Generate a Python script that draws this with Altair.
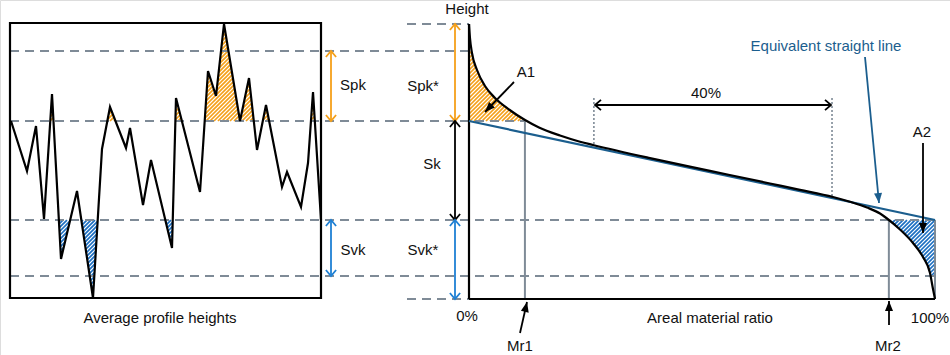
import math
import altair as alt
import numpy as np
import pandas as pd

# ---------------- data ----------------
# left panel: roughness profile (position along trace, height)
PROFILE_POS = [11, 27, 36, 44, 52, 61, 77, 93, 102, 110, 126, 130, 143, 151, 172,
               176, 200, 208, 216, 224, 240, 249, 257, 266, 282, 287, 301, 308, 313, 321]
PROFILE_H = [178, 128, 173, 80, 205, 40, 108, 1, 150, 192, 151, 171, 94, 139, 51,
             201, 107, 228, 203, 275, 178, 221, 149, 194, 112, 127, 92, 136, 207, 79]

# right panel: areal material ratio curve (%), height
CURVE_MR = [0.0, 0.21, 0.64, 1.72, 3.43, 5.58, 8.58, 12.02, 15.02, 19.53, 23.82, 26.61,
            38.84, 51.72, 64.59, 71.03, 78.11, 81.76, 85.41, 88.20, 89.70, 92.49, 95.28,
            97.42, 98.93, 99.57, 100.0]
CURVE_H = [275, 261, 246, 229, 213, 201, 189.5, 179, 171.5, 163.5, 157.3, 154,
           140.9, 128.2, 115.5, 109.2, 102, 97.2, 91.5, 85.5, 80.5, 69.5, 56,
           42, 26, 10, 0]

# equivalent straight line (material ratio %, height)
EQ_MR = [0, 100]
EQ_H = [178, 79]

# reference heights
H_TOP, H_SPK, H_CORE_TOP, H_CORE_BOT, H_SVK, H_BASE = 275, 248, 178, 79, 23, 0
MR1, MR2 = 12.0, 90.1
WINDOW_MR = [26.8, 77.9]

# ---------------- layout ----------------
LEFT_X0, LEFT_X1 = 10, 321
BOX_H0, BOX_H1 = 1, 276
ORIGIN_X, FULL_X = 469, 935


def mx(mr):
    return ORIGIN_X + np.asarray(mr, dtype=float) * (FULL_X - ORIGIN_X) / 100.0


ORANGE = "#F5A01A"
BLUE = "#1F80D4"
HATCH_BLUE = "#1C6FC2"
EQ_BLUE = "#1B5E8E"
GREY = "#7F8B97"
INK = "#111111"
FONT = "Liberation Sans"

XS = alt.Scale(domain=[0, 950], nice=False, zero=False)
YS = alt.Scale(domain=[-56, 299], nice=False, zero=False)


def X(f="x"):
    return alt.X(f"{f}:Q", scale=XS, axis=None)


def Y(f="h"):
    return alt.Y(f"{f}:Q", scale=YS, axis=None)


profile_fn = lambda xs: np.interp(xs, PROFILE_POS, PROFILE_H)
curve_x = mx(CURVE_MR)
curve_fn = lambda xs: np.interp(xs, curve_x, CURVE_H)


def hatch(x0, x1, lo, hi, step=4.0, res=0.05):
    xs = np.arange(x0, x1 + res / 2, res)
    lo_v, hi_v = lo(xs), hi(xs)
    segs = []
    c = math.floor((lo_v.min() - x1) / step) * step
    cmax = hi_v.max() - x0
    while c <= cmax:
        hv = xs + c
        inside = (hv >= lo_v) & (hv <= hi_v)
        if inside.any():
            d = np.flatnonzero(np.diff(np.concatenate([[0], inside.astype(int), [0]])))
            for a, b in zip(d[::2], d[1::2]):
                xa, xb = xs[a], xs[b - 1]
                if xb - xa > 0.3:
                    segs.append({"x": xa, "h": xa + c, "x2": xb, "h2": xb + c})
        c += step
    return pd.DataFrame(segs)


const = lambda v: (lambda xs: np.full_like(xs, v, dtype=float))

orange_hatch = pd.concat([
    hatch(LEFT_X0, LEFT_X1, const(H_CORE_TOP), profile_fn),
    hatch(ORIGIN_X, mx(MR1), const(H_CORE_TOP),
          lambda xs: np.minimum(curve_fn(xs), H_SPK)),
])
blue_hatch = pd.concat([
    hatch(LEFT_X0, LEFT_X1, profile_fn, const(H_CORE_BOT)),
    hatch(mx(MR2), FULL_X, lambda xs: np.maximum(curve_fn(xs), H_SVK), const(H_CORE_BOT)),
])


def segs_layer(df, **kw):
    return alt.Chart(df).mark_rule(**kw).encode(
        x=X(), y=Y(), x2=alt.X2("x2:Q"), y2=alt.Y2("h2:Q"))


layers = []
layers.append(segs_layer(orange_hatch, color=ORANGE, strokeWidth=1.7))
layers.append(segs_layer(blue_hatch, color=HATCH_BLUE, strokeWidth=1.7))

# dashed reference levels
dashed = pd.DataFrame([
    {"x": LEFT_X0, "x2": ORIGIN_X, "h": H_SPK, "h2": H_SPK},
    {"x": LEFT_X0, "x2": mx(MR1), "h": H_CORE_TOP, "h2": H_CORE_TOP},
    {"x": LEFT_X0, "x2": FULL_X, "h": H_CORE_BOT, "h2": H_CORE_BOT},
    {"x": LEFT_X0, "x2": FULL_X, "h": H_SVK, "h2": H_SVK},
    {"x": 407, "x2": ORIGIN_X, "h": H_TOP, "h2": H_TOP},
    {"x": 407, "x2": ORIGIN_X, "h": H_BASE, "h2": H_BASE},
])
layers.append(segs_layer(dashed, color=GREY, strokeWidth=2.2, strokeDash=[9, 6]))

# dotted window lines (40 %)
win_x = mx(WINDOW_MR)
dotted = pd.DataFrame([
    {"x": wx, "x2": wx, "h": 201, "h2": float(curve_fn(np.array([wx]))[0])} for wx in win_x
])
layers.append(segs_layer(dotted, color=GREY, strokeWidth=1.6, strokeDash=[2, 2]))

# grey verticals: Mr1, Mr2, 100 % edge
greys = pd.DataFrame([
    {"x": mx(MR1), "x2": mx(MR1), "h": H_BASE, "h2": H_CORE_TOP},
    {"x": mx(MR2), "x2": mx(MR2), "h": H_BASE, "h2": H_CORE_BOT},
    {"x": FULL_X, "x2": FULL_X, "h": H_BASE, "h2": H_CORE_BOT},
])
layers.append(segs_layer(greys, color=GREY, strokeWidth=2))

# profile
prof = pd.DataFrame({"x": PROFILE_POS, "h": PROFILE_H})
layers.append(alt.Chart(prof).mark_line(color="black", strokeWidth=2.2).encode(
    x=X(), y=Y(), order="x:Q"))

# box around profile
box = pd.DataFrame([{"x": LEFT_X0, "x2": LEFT_X1, "h": BOX_H0, "h2": BOX_H1}])
layers.append(alt.Chart(box).mark_rect(fillOpacity=0, stroke="black", strokeWidth=2.2).encode(
    x=X(), y=Y(), x2=alt.X2("x2:Q"), y2=alt.Y2("h2:Q")))

# right-panel axes
axes = pd.DataFrame([
    {"x": ORIGIN_X, "x2": ORIGIN_X, "h": H_BASE, "h2": H_TOP},
    {"x": ORIGIN_X, "x2": FULL_X, "h": H_BASE, "h2": H_BASE},
])
layers.append(segs_layer(axes, color="black", strokeWidth=2.2))

# equivalent straight line
eq = pd.DataFrame({"x": mx(EQ_MR), "h": EQ_H})
layers.append(alt.Chart(eq).mark_line(color=EQ_BLUE, strokeWidth=2.2).encode(x=X(), y=Y()))

# material ratio curve
cur = pd.DataFrame({"x": curve_x, "h": CURVE_H})
layers.append(alt.Chart(cur).mark_line(color="black", strokeWidth=2.2,
                                       interpolate="monotone").encode(x=X(), y=Y(), order="x:Q"))

# double arrows (shafts + open chevrons)
double_arrows = [
    (331, H_SPK, H_CORE_TOP, ORANGE),
    (331, H_CORE_BOT, H_SVK, BLUE),
    (455, H_TOP, H_CORE_TOP, ORANGE),
    (455, H_CORE_TOP, H_CORE_BOT, "black"),
    (455, H_CORE_BOT, H_BASE, BLUE),
]
shafts, heads = [], []
for x, ht, hb, col in double_arrows:
    shafts.append({"x": x, "x2": x, "h": ht - 1, "h2": hb + 1, "col": col})
    heads.append({"x": x, "h": ht, "ang": 270, "col": col})
    heads.append({"x": x, "h": hb, "ang": 90, "col": col})
# 40 % horizontal arrow
shafts.append({"x": 595, "x2": 831, "h": 194, "h2": 194, "col": "black"})
heads.append({"x": 595, "h": 194, "ang": 180, "col": "black"})
heads.append({"x": 831, "h": 194, "ang": 0, "col": "black"})

# single arrows with filled heads: (x start, h start, x tip, h tip, colour)
single_arrows = [
    (514, 217, 485, 187, "black"),
    (923, 156, 923, 66, "black"),
    (865, 242, 879, 96, EQ_BLUE),
    (520, -34, 527, -3, "black"),
    (889, -26, 889, -2, "black"),
]
fheads = []
for xs_, hs_, xt, ht, col in single_arrows:
    shafts.append({"x": xs_, "x2": xt, "h": hs_, "h2": ht, "col": col})
    ang = math.degrees(math.atan2(-(ht - hs_), xt - xs_)) % 360
    fheads.append({"x": xt, "h": ht, "ang": ang, "col": col})

layers.append(alt.Chart(pd.DataFrame(shafts)).mark_rule(strokeWidth=1.8).encode(
    x=X(), y=Y(), x2=alt.X2("x2:Q"), y2=alt.Y2("h2:Q"),
    color=alt.Color("col:N", scale=None)))
layers.append(alt.Chart(pd.DataFrame(heads)).mark_point(
    shape="M-1,-0.85L0,0L-1,0.85", filled=False, size=144, strokeWidth=1.8, opacity=1
).encode(x=X(), y=Y(), angle=alt.Angle("ang:Q", scale=None),
         color=alt.Color("col:N", scale=None)))
layers.append(alt.Chart(pd.DataFrame(fheads)).mark_point(
    shape="M0,0L-1,-0.4L-1,0.4Z", filled=True, size=400, opacity=1
).encode(x=X(), y=Y(), angle=alt.Angle("ang:Q", scale=None),
         color=alt.Color("col:N", scale=None)))

# texts
TEXTS = ["Height", "Spk", "Svk", "Spk*", "Sk", "Svk*", "A1", "40%", "A2",
         "Equivalent straight line", "Average profile heights", "0%",
         "Areal material ratio", "100%", "Mr1", "Mr2"]
TEXT_X = [467, 353, 353, 423, 432, 423, 526, 706, 922, 826, 160, 467, 710, 930, 520, 888]
TEXT_H = [290, 214, 49, 213, 135, 49, 227, 206, 167, 253, -19, -17, -19, -19, -47, -47]
TEXT_C = [INK] * 9 + [EQ_BLUE] + [INK] * 6
txt = pd.DataFrame({"t": TEXTS, "x": TEXT_X, "h": TEXT_H, "col": TEXT_C})
layers.append(alt.Chart(txt).mark_text(font=FONT, fontSize=15, baseline="middle",
                                       align="center").encode(
    x=X(), y=Y(), text="t:N", color=alt.Color("col:N", scale=None)))

chart = alt.layer(*layers).properties(
    width=950, height=355, autosize=alt.AutoSizeParams(type="none"), padding=0
).configure_view(strokeWidth=0).configure(background="white")

chart.save("out.html", embed_options={"renderer": "svg", "actions": False})
